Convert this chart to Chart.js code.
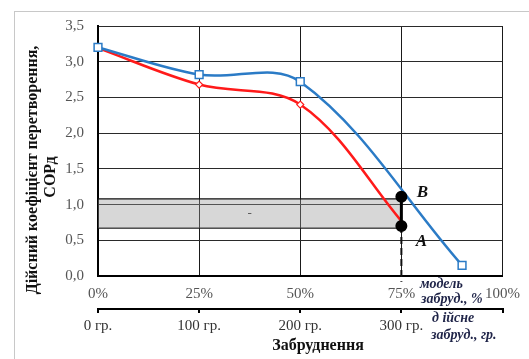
<!DOCTYPE html>
<html>
<head>
<meta charset="utf-8">
<script src="https://cdn.jsdelivr.net/npm/chart.js@4/dist/chart.umd.min.js"></script>
<style>
  html, body { margin: 0; padding: 0; background: #fff; }
  #wrap { width: 529px; height: 359px; }
</style>
</head>
<body>
<div id="wrap"><canvas id="c" width="529" height="359"></canvas></div>
<script>
// ---- data ----
const modelX = [0, 25, 50, 90];                 // % model contamination
const modelCOP = [3.2, 2.82, 2.72, 0.15];
const actualX = [0, 25, 50, 76];
const actualCOP = [3.19, 2.68, 2.40, 0.70];
const markX = [75, 75];
const markY = [0.70, 1.11];
const markNames = ['A', 'B'];
const bandX = [0, 75];
const bandTop = [1.08, 1.08];
const bandBottom = [0.67, 0.67];
const dashX = [75, 75];
const dashY = [0.70, -0.08];
const yTitleLines = ['Дійсний коефіцієнт перетворення,', 'СОРд'];
const xTitle = 'Забруднення';
const modelLabel = ['модель', 'забруд., %'];
const actualLabel = ['д iйсне', 'забруд., гр.'];
const gramUnit = ' гр.';

const pts = (xs, ys) => xs.map((x, i) => ({ x: x, y: ys[i] }));
const serif = '"Liberation Serif", "Times New Roman", serif';

const decor = {
  id: 'decor',
  beforeDraw(chart) {
    const ctx = chart.ctx;
    ctx.save();
    ctx.fillStyle = '#fff';
    ctx.fillRect(0, 0, chart.width, chart.height);
    ctx.strokeStyle = '#c8c8c8';
    ctx.lineWidth = 1;
    ctx.strokeRect(14.5, 11.5, 700, 700);
    ctx.restore();
  },
  afterDraw(chart) {
    const ctx = chart.ctx;
    const xs = chart.scales.x, ys = chart.scales.y;
    ctx.save();
    // y-axis title
    ctx.fillStyle = '#111';
    ctx.font = 'bold 16px ' + serif;
    ctx.textAlign = 'center';
    ctx.textBaseline = 'middle';
    ctx.save(); ctx.translate(33, 170); ctx.rotate(-Math.PI / 2);
    ctx.fillText(yTitleLines[0], 0, 0); ctx.restore();
    ctx.save(); ctx.translate(51, 177); ctx.rotate(-Math.PI / 2);
    ctx.fillText(yTitleLines[1], 0, 0); ctx.restore();
    // x title
    ctx.fillText(xTitle, 318, 346);
    // band dash
    ctx.fillStyle = '#555';
    ctx.font = '13px ' + serif;
    ctx.fillText('-', xs.getPixelForValue(37.5), ys.getPixelForValue(0.875));
    // A / B labels
    ctx.fillStyle = '#111';
    ctx.font = 'bold italic 17px ' + serif;
    const ax = xs.getPixelForValue(markX[0]), ay = ys.getPixelForValue(markY[0]);
    const bx = xs.getPixelForValue(markX[1]), by = ys.getPixelForValue(markY[1]);
    ctx.fillText(markNames[0], ax + 20, ay + 16);
    ctx.fillText(markNames[1], bx + 21, by - 4);
    // axis annotations
    ctx.fillStyle = '#1f2448';
    ctx.font = 'bold italic 14px ' + serif;
    ctx.textAlign = 'left';
    ctx.fillText(modelLabel[0], 420, 284);
    ctx.fillText(modelLabel[1], 421, 299);
    ctx.fillText(actualLabel[0], 432, 318);
    ctx.fillText(actualLabel[1], 431, 335);
    ctx.restore();
  }
};

new Chart(document.getElementById('c'), {
  type: 'scatter',
  data: {
    datasets: [
      {
        label: 'model',
        data: pts(modelX, modelCOP),
        showLine: true,
        borderColor: '#2b7bc6',
        borderWidth: 2.5,
        tension: 0.35,
        pointStyle: 'rect',
        pointRadius: 5.5,
        pointBorderWidth: 1.5,
        pointBorderColor: '#2b7bc6',
        pointBackgroundColor: '#fff',
        clip: false,
        order: 1
      },
      {
        label: 'actual',
        data: pts(actualX, actualCOP),
        showLine: true,
        borderColor: '#ff1a1a',
        borderWidth: 2.5,
        tension: 0.35,
        pointStyle: 'rectRot',
        pointRadius: [0, 3.5, 3.5, 0],
        pointBorderWidth: 1.2,
        pointBorderColor: '#ff1a1a',
        pointBackgroundColor: '#fff',
        clip: false,
        order: 2
      },
      {
        label: 'bandTop',
        data: pts(bandX, bandTop),
        showLine: true,
        borderColor: '#111',
        borderWidth: 1.2,
        pointRadius: 0,
        fill: '+1',
        backgroundColor: 'rgba(150,150,150,0.38)',
        order: 5
      },
      {
        label: 'bandBottom',
        data: pts(bandX, bandBottom),
        showLine: true,
        borderColor: '#111',
        borderWidth: 1.2,
        pointRadius: 0,
        order: 6
      },
      {
        label: 'dash',
        data: pts(dashX, dashY),
        showLine: true,
        borderColor: '#111',
        borderWidth: 2,
        borderDash: [7, 4],
        pointRadius: 0,
        clip: false,
        order: 4
      },
      {
        label: 'AB',
        data: pts(markX, markY),
        showLine: true,
        borderColor: '#000',
        borderWidth: 3,
        pointRadius: 4.5,
        pointBackgroundColor: '#000',
        pointBorderColor: '#000',
        order: 0
      }
    ]
  },
  options: {
    responsive: false,
    animation: false,
    layout: { padding: { left: 14, top: 26, right: 26, bottom: 0 } },
    plugins: { legend: { display: false }, tooltip: { enabled: false } },
    scales: {
      x: {
        type: 'linear',
        position: 'bottom',
        min: 0, max: 100,
        afterFit(s) { s.height = 33; },
        ticks: {
          stepSize: 25,
          padding: 9,
          color: '#555',
          font: { family: serif, size: 15 },
          maxRotation: 0,
          callback: v => v + '%'
        },
        grid: { color: '#1a1a1a', lineWidth: 1, drawTicks: false },
        border: { color: '#000', width: 2 }
      },
      x2: {
        type: 'linear',
        position: 'bottom',
        min: 0, max: 400,
        afterFit(s) { s.height = 50; },
        ticks: {
          stepSize: 100,
          padding: 4,
          color: '#333',
          font: { family: serif, size: 15 },
          maxRotation: 0,
          callback: v => (v === 400 ? '' : v + gramUnit)
        },
        grid: { drawOnChartArea: false, drawTicks: true, tickLength: 4, color: '#000', lineWidth: 2 },
        border: { color: '#000', width: 2 }
      },
      y: {
        min: 0, max: 3.5,
        afterFit(s) { s.width = 84; },
        ticks: {
          stepSize: 0.5,
          padding: 14,
          color: '#555',
          font: { family: serif, size: 15 },
          callback: v => v.toFixed(1).replace('.', ',')
        },
        grid: { color: '#2a2a2a', lineWidth: 1, drawTicks: false },
        border: { color: '#000', width: 2 }
      }
    }
  },
  plugins: [decor]
});
</script>
</body>
</html>
